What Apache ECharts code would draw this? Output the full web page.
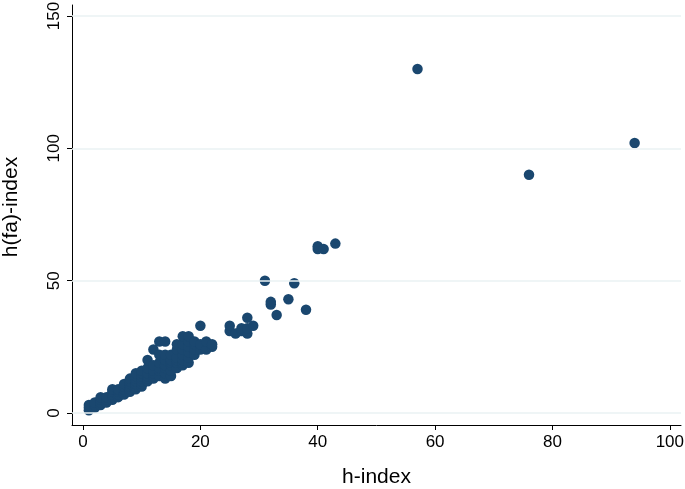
<!DOCTYPE html>
<html>
<head>
<meta charset="utf-8">
<script src="https://cdn.jsdelivr.net/npm/echarts@6/dist/echarts.min.js"></script>
<style>
  html, body { margin: 0; padding: 0; background: #fff; }
  #main { width: 685px; height: 489px; }
</style>
</head>
<body>
<div id="main"></div>
<script>
var chartDom = document.getElementById('main');
var myChart = echarts.init(chartDom);
var option;

// h-index of each researcher (x)
var hIndex = [
  1, 1, 1,
  2, 2, 2,
  3, 3, 3, 3,
  4, 4, 4,
  5, 5, 5, 5, 5,
  6, 6, 6, 6,
  7, 7, 7, 7, 7,
  8, 8, 8, 8, 8, 8,
  9, 9, 9, 9, 9, 9, 9,
  10, 10, 10, 10, 10, 10, 10,
  11, 11, 11, 11, 11, 11,
  12, 12, 12, 12, 12, 12,
  13, 13, 13, 13, 13, 13,
  14, 14, 14, 14, 14, 14, 14,
  15, 15, 15, 15, 15, 15,
  16, 16, 16, 16, 16, 16,
  17, 17, 17, 17, 17, 17, 17,
  18, 18, 18, 18, 18, 18,
  19, 19, 19, 19,
  20, 20, 20,
  21, 21,
  22, 22,
  25, 25, 26, 27, 27, 28, 28, 28, 29,
  31, 32, 32, 33, 35, 36, 38,
  40, 40, 41, 43,
  57, 76, 94
];

// matching h(fa)-index (y)
var hfaIndex = [
  1, 2, 3,
  2, 3, 4,
  3, 4, 5, 6,
  4, 5, 6,
  5, 6, 7, 8, 9,
  6, 7, 8, 9,
  7, 8, 9, 10, 11,
  8, 9, 10, 11, 12, 13,
  9, 10, 11, 12, 13, 14, 15,
  10, 11, 12, 13, 14, 15, 16,
  12, 13, 14, 15, 17, 20,
  13, 14, 15, 16, 18, 24,
  14, 16, 17, 19, 22, 27,
  13, 15, 17, 18, 20, 22, 27,
  14, 16, 18, 19, 20, 22,
  17, 19, 20, 21, 24, 26,
  18, 19, 20, 22, 24, 26, 29,
  19, 21, 23, 25, 27, 29,
  22, 24, 26, 27,
  24, 26, 33,
  24, 27,
  25, 26,
  31, 33, 30, 31, 32, 30, 32, 36, 33,
  50, 41, 42, 37, 43, 49, 39,
  62, 63, 62, 64,
  130, 90, 102
];

var xTicks = [0, 20, 40, 60, 80, 100];
var yTicks = [0, 50, 100, 150];

var points = hIndex.map(function (h, i) { return [h, hfaIndex[i]]; });

var fontFamily = '"Liberation Sans", Arial, sans-serif';

option = {
    animation: false,
    backgroundColor: '#ffffff',
    grid: { left: 72, right: 4, top: 5, bottom: 64, containLabel: false, outerBoundsMode: 'none' },
    xAxis: {
        type: 'value',
        min: -1.875,
        max: 101.9,
        name: 'h-index',
        nameLocation: 'middle',
        nameGap: 42,
        nameTextStyle: { fontSize: 21, color: '#000', fontFamily: fontFamily },
        axisLine: { show: true, onZero: false, lineStyle: { color: '#000', width: 1 } },
        axisTick: { show: true, length: 5, customValues: xTicks, lineStyle: { color: '#000' } },
        axisLabel: { customValues: xTicks, fontSize: 17, color: '#000', margin: 9, fontFamily: fontFamily },
        splitLine: { show: false }
    },
    yAxis: {
        type: 'value',
        min: -4.53,
        max: 154.16,
        name: 'h(fa)-index',
        nameLocation: 'middle',
        nameGap: 50,
        nameRotate: 90,
        nameTextStyle: { fontSize: 21, color: '#000', fontFamily: fontFamily, padding: [0, 0, 0, 16] },
        axisLine: { show: true, onZero: false, lineStyle: { color: '#000', width: 1 } },
        axisTick: { show: true, length: 5, customValues: yTicks, lineStyle: { color: '#000' } },
        axisLabel: { customValues: yTicks, rotate: 90, fontSize: 17, color: '#000', margin: 9, fontFamily: fontFamily },
        splitLine: { show: false }
    },
    series: [
        {
            // horizontal grid lines
            type: 'line',
            data: [],
            z: 1,
            silent: true,
            markLine: {
                silent: true,
                symbol: 'none',
                label: { show: false },
                lineStyle: { color: '#eaf2f3', width: 1.5, type: 'solid' },
                data: yTicks.map(function (v) { return { yAxis: v }; })
            }
        },
        {
            type: 'scatter',
            z: 2,
            symbol: 'circle',
            symbolSize: 10.5,
            itemStyle: { color: '#1a476f', opacity: 1 },
            data: points
        }
    ]
};

option && myChart.setOption(option);
</script>
</body>
</html>
